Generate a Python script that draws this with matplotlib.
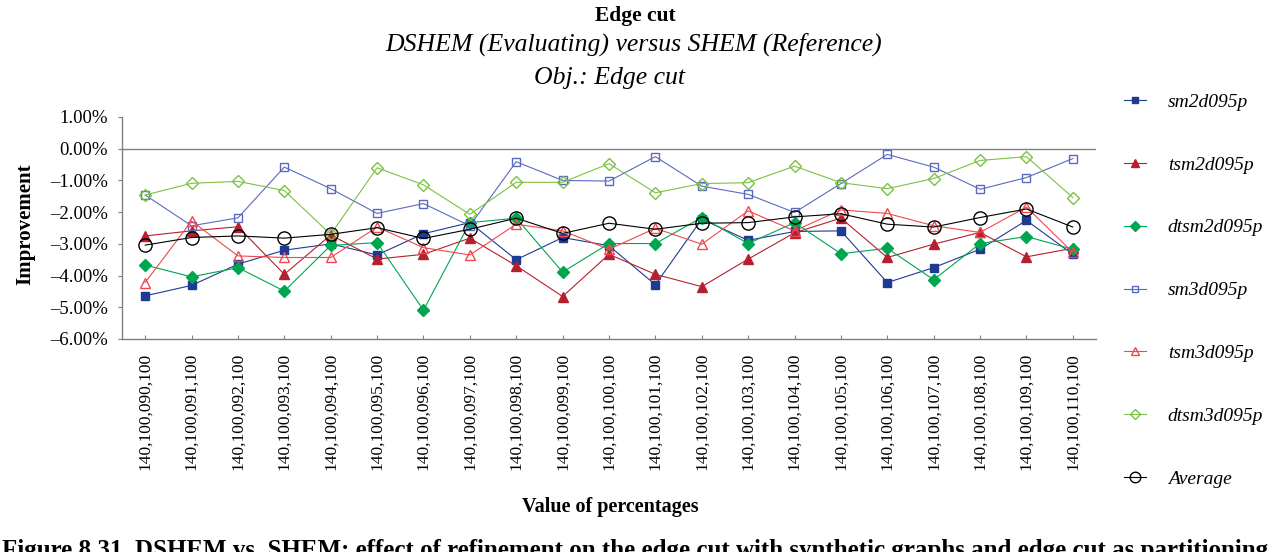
import matplotlib
matplotlib.use('Agg')
import matplotlib.pyplot as plt
import numpy as np

# categories (value of percentages)
categories = ['140,100,090,100', '140,100,091,100', '140,100,092,100', '140,100,093,100',
              '140,100,094,100', '140,100,095,100', '140,100,096,100', '140,100,097,100',
              '140,100,098,100', '140,100,099,100', '140,100,100,100', '140,100,101,100',
              '140,100,102,100', '140,100,103,100', '140,100,104,100', '140,100,105,100',
              '140,100,106,100', '140,100,107,100', '140,100,108,100', '140,100,109,100',
              '140,100,110,100']

# improvement in percent
sm2d095p = [-4.64, -4.31, -3.64, -3.20, -3.00, -3.35, -2.68, -2.33, -3.50, -2.80, -3.06,
            -4.29, -2.22, -2.89, -2.61, -2.59, -4.22, -3.75, -3.17, -2.26, -3.33]
tsm2d095p = [-2.75, -2.59, -2.46, -3.96, -2.72, -3.48, -3.33, -2.82, -3.69, -4.66, -3.33,
             -3.96, -4.35, -3.48, -2.65, -2.19, -3.43, -3.01, -2.64, -3.41, -3.14]
dtsm2d095p = [-3.67, -4.04, -3.75, -4.49, -3.05, -2.96, -5.09, -2.33, -2.19, -3.89, -2.99,
              -2.99, -2.17, -2.99, -2.33, -3.31, -3.14, -4.13, -2.99, -2.77, -3.17]
sm3d095p = [-1.46, -2.43, -2.18, -0.58, -1.26, -2.04, -1.73, -2.43, -0.41, -1.00, -1.02,
            -0.25, -1.18, -1.44, -2.01, -1.10, -0.18, -0.58, -1.28, -0.91, -0.31]
tsm3d095p = [-4.22, -2.28, -3.38, -3.43, -3.43, -2.47, -3.12, -3.35, -2.38, -2.59, -3.17,
             -2.51, -3.01, -1.96, -2.59, -1.93, -2.04, -2.43, -2.64, -1.84, -3.27]
dtsm3d095p = [-1.46, -1.09, -1.03, -1.32, -2.70, -0.60, -1.14, -2.07, -1.06, -1.06, -0.47,
              -1.39, -1.10, -1.07, -0.55, -1.07, -1.26, -0.94, -0.37, -0.25, -1.54]
average = [-3.04, -2.80, -2.75, -2.82, -2.70, -2.49, -2.83, -2.54, -2.19, -2.67, -2.35,
           -2.54, -2.35, -2.33, -2.15, -2.05, -2.38, -2.47, -2.17, -1.90, -2.47]

plt.rcParams['font.family'] = ['Liberation Serif', 'DejaVu Serif']

fig = plt.figure(figsize=(12.7, 5.52), dpi=100)
ax = fig.add_axes([122 / 1270, 1 - 339 / 552, (1096 - 122) / 1270, (339 - 117) / 552])

x = np.arange(len(categories))
series = [
    (sm2d095p, 'sm2d095p', '#1F3A93', 's', 5.5, True),
    (tsm2d095p, 'tsm2d095p', '#B5202E', '^', 7, True),
    (dtsm2d095p, 'dtsm2d095p', '#00A550', 'D', 6, True),
    (sm3d095p, 'sm3d095p', '#5A6ABF', 's', 6, False),
    (tsm3d095p, 'tsm3d095p', '#F0484E', '^', 7.5, False),
    (dtsm3d095p, 'dtsm3d095p', '#7CC242', 'D', 6.5, False),
    (average, 'Average', 'black', 'o', 9.5, False),
]
for vals, name, col, mk, ms, filled in series:
    if filled:
        ax.plot(x, vals, color=col, lw=0.8, marker=mk, ms=ms, mfc=col, mec=col, label=name)
    else:
        ax.plot(x, vals, color=col, lw=0.8, marker=mk, ms=ms, mfc='none', mec=col,
                mew=1.0, label=name)

ax.set_xlim(-0.5, len(categories) - 0.5)
ax.set_ylim(-6, 1)
ax.axhline(0, color='#808080', lw=1.0, zorder=0)

yt = np.arange(1, -7, -1)
ax.set_yticks(yt)
ax.set_yticklabels([('%.2f%%' % v).replace('-', '\u2013') for v in yt], fontsize=13.5)
ax.set_xticks(x)
ax.set_xticklabels(categories, rotation=90, fontsize=12.5)
ax.tick_params(axis='y', direction='out', length=3, color='#808080', pad=7)
ax.tick_params(axis='x', direction='in', length=3, color='#808080', pad=10)

for s in ['top', 'right']:
    ax.spines[s].set_visible(False)
for s in ['left', 'bottom']:
    ax.spines[s].set_color('#808080')
    ax.spines[s].set_linewidth(1.0)

fig.text(25 / 1270, 1 - 224 / 552, 'Improvement', rotation=90, fontsize=15,
         fontweight='bold', ha='center', va='center')
fig.text(610 / 1270, 1 - 507 / 552, 'Value of percentages', fontsize=14.5,
         fontweight='bold', ha='center', va='center')

fig.text(635 / 1270, 1 - 21 / 552, 'Edge cut', fontsize=15.5, fontweight='bold',
         ha='center', va='baseline')
fig.text(634 / 1270, 1 - 51 / 552, 'DSHEM (Evaluating) versus SHEM (Reference)',
         fontsize=18.5, style='italic', ha='center', va='baseline')
fig.text(610 / 1270, 1 - 84 / 552, 'Obj.: Edge cut', fontsize=18.5, style='italic',
         ha='center', va='baseline')

fig.legend(loc='upper left', bbox_to_anchor=(1124 / 1270, 1 - 93 / 552), frameon=False,
           prop={'size': 14, 'style': 'italic'}, handlelength=1.15, handletextpad=1.1,
           labelspacing=2.33, borderpad=0, borderaxespad=0, markerscale=0.8)

# caption is cut by the lower edge, as in the source page
fig.text(2 / 1270, 1 - 539 / 552,
         'Figure 8.31. DSHEM vs. SHEM: effect of refinement on the edge cut with synthetic '
         'graphs and edge cut as partitioning',
         fontsize=18, fontweight='bold', ha='left', va='top')

fig.savefig('out.png', dpi=100)
plt.close(fig)
